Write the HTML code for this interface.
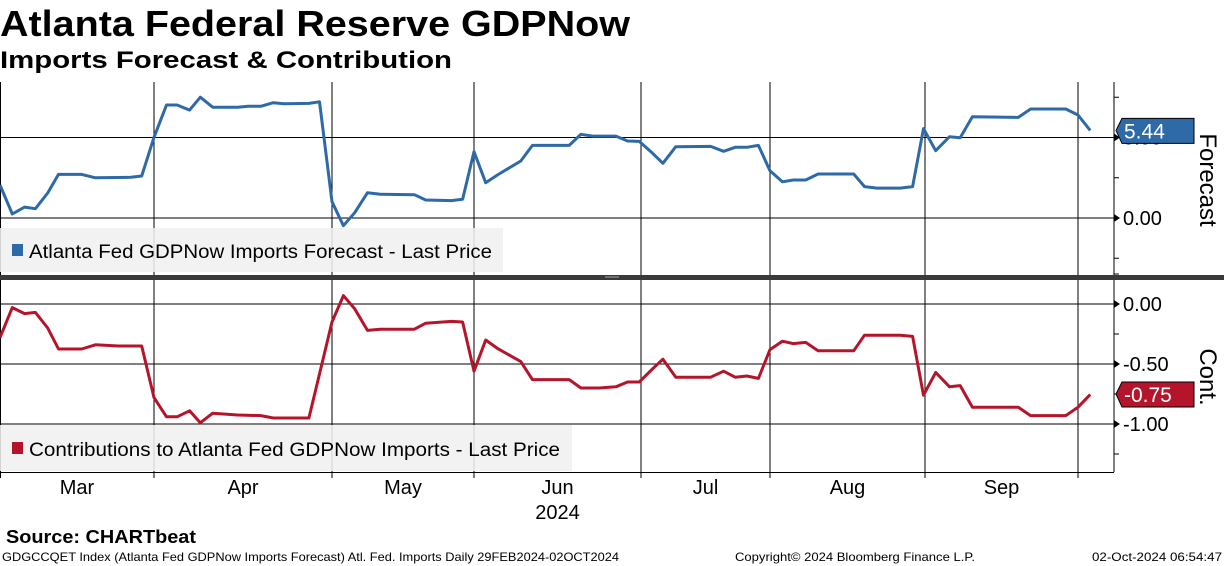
<!DOCTYPE html>
<html><head><meta charset="utf-8"><style>
html,body{margin:0;padding:0;background:#fff;}
svg{display:block;font-family:"Liberation Sans",sans-serif;}
</style></head><body>
<svg id="chart" width="1224" height="566" viewBox="0 0 1224 566" xmlns="http://www.w3.org/2000/svg">
<text x="0" y="36" font-size="36" font-weight="bold" textLength="630" lengthAdjust="spacingAndGlyphs">Atlanta Federal Reserve GDPNow</text>
<text x="0" y="68" font-size="24" font-weight="bold" textLength="452" lengthAdjust="spacingAndGlyphs">Imports Forecast &amp; Contribution</text>
<g id="grid"></g>
<g id="series"></g>
<rect x="0" y="228" width="503" height="44" fill="#f0f0f0" opacity="0.88"/>
<rect x="12" y="244" width="11" height="12" fill="#2e6aa8"/>
<text x="29" y="258" font-size="19" textLength="463" lengthAdjust="spacingAndGlyphs">Atlanta Fed GDPNow Imports Forecast - Last Price</text>
<rect x="0" y="425" width="572" height="46" fill="#f0f0f0" opacity="0.88"/>
<rect x="12" y="442" width="11" height="12" fill="#b5152b"/>
<text x="29" y="456" font-size="19" textLength="531" lengthAdjust="spacingAndGlyphs">Contributions to Atlanta Fed GDPNow Imports - Last Price</text>
<rect x="0" y="275" width="1224" height="5" fill="#3a3a3a"/>
<line x1="605" y1="277" x2="619" y2="277" stroke="#aaa" stroke-width="1"/>
<text transform="translate(1200,180) rotate(90)" text-anchor="middle" font-size="24">Forecast</text>
<text transform="translate(1200,377) rotate(90)" text-anchor="middle" font-size="24">Cont.</text>
<text x="6" y="543" font-size="18" font-weight="bold" textLength="190" lengthAdjust="spacingAndGlyphs">Source: CHARTbeat</text>
<text x="2" y="561" font-size="12" textLength="617" lengthAdjust="spacingAndGlyphs">GDGCCQET Index (Atlanta Fed GDPNow Imports Forecast) Atl. Fed. Imports  Daily 29FEB2024-02OCT2024</text>
<text x="735" y="561" font-size="12" textLength="240" lengthAdjust="spacingAndGlyphs">Copyright© 2024 Bloomberg Finance L.P.</text>
<text x="1092" y="561" font-size="12" textLength="130" lengthAdjust="spacingAndGlyphs">02-Oct-2024 06:54:47</text>
</svg>
<script>
// x values in "month position" (3 = start of March, 10 = start of October)
const forecastX = [3.00,3.08,3.16,3.23,3.31,3.38,3.53,3.62,3.85,3.92,4.00,4.07,4.13,4.20,4.26,4.33,4.47,4.53,4.60,4.67,4.73,4.87,4.93,5.00,5.08,5.16,5.25,5.34,5.58,5.66,5.84,5.92,6.00,6.07,6.14,6.28,6.35,6.57,6.64,6.71,6.78,6.85,6.92,6.99,7.09,7.17,7.27,7.54,7.64,7.73,7.82,7.91,8.00,8.08,8.15,8.23,8.31,8.54,8.61,8.69,8.84,8.92,8.99,9.07,9.16,9.23,9.31,9.61,9.69,9.92,10.00,10.08];
const forecastY = [2.05,0.25,0.68,0.58,1.55,2.71,2.71,2.50,2.53,2.61,5.01,7.02,7.02,6.70,7.50,6.88,6.88,6.94,6.94,7.16,7.10,7.12,7.22,1.01,-0.48,0.33,1.57,1.47,1.45,1.12,1.08,1.16,4.12,2.19,2.67,3.54,4.51,4.51,5.20,5.09,5.09,5.09,4.78,4.76,4.02,3.40,4.43,4.45,4.14,4.39,4.39,4.51,2.94,2.25,2.36,2.36,2.73,2.73,1.95,1.86,1.86,1.95,5.55,4.18,5.05,4.99,6.29,6.25,6.77,6.77,6.40,5.44];
const contribX = [3.00,3.08,3.16,3.23,3.31,3.38,3.53,3.62,3.77,3.92,4.00,4.07,4.13,4.20,4.26,4.33,4.47,4.60,4.67,4.87,5.00,5.08,5.16,5.25,5.34,5.58,5.66,5.84,5.92,6.00,6.07,6.14,6.28,6.35,6.57,6.64,6.75,6.85,6.92,6.99,7.09,7.17,7.27,7.54,7.64,7.73,7.82,7.91,8.00,8.08,8.15,8.23,8.31,8.54,8.61,8.84,8.92,8.99,9.07,9.16,9.23,9.31,9.61,9.69,9.92,10.00,10.08];
const contribY = [-0.28,-0.03,-0.08,-0.07,-0.20,-0.375,-0.375,-0.34,-0.35,-0.35,-0.78,-0.94,-0.94,-0.89,-0.99,-0.91,-0.925,-0.93,-0.95,-0.95,-0.15,0.07,-0.04,-0.22,-0.21,-0.21,-0.16,-0.145,-0.15,-0.56,-0.30,-0.37,-0.48,-0.63,-0.63,-0.70,-0.70,-0.69,-0.65,-0.65,-0.54,-0.46,-0.61,-0.61,-0.56,-0.61,-0.60,-0.62,-0.38,-0.31,-0.33,-0.32,-0.39,-0.39,-0.26,-0.26,-0.27,-0.76,-0.57,-0.69,-0.68,-0.86,-0.86,-0.93,-0.93,-0.86,-0.755];
const monthLabels = ["Mar","Apr","May","Jun","Jul","Aug","Sep"];
const forecastTicks = [0, 5];
const contribTicks = [0, -0.5, -1];
const lastForecast = "5.44";
const lastContrib = "-0.75";

const NS = "http://www.w3.org/2000/svg";
const svg = document.getElementById('chart');
const grid = document.getElementById('grid');
const series = document.getElementById('series');
const monthAnchorPx = [0,154,332,474,641,770,925,1078,1231];
function xScale(m){
  const i = Math.max(0, Math.min(7, Math.floor(m - 3)));
  const f = m - 3 - i;
  return monthAnchorPx[i] + f * (monthAnchorPx[i+1] - monthAnchorPx[i]);
}
function yTop(v){ return 218 - v * 16.1; }
function yBot(v){ return 304 - v * 120; }
const PR = 1114;

function mk(tag, attrs, parent){
  const e = document.createElementNS(NS, tag);
  for (const k in attrs) e.setAttribute(k, attrs[k]);
  (parent || svg).appendChild(e);
  return e;
}
for (let m = 4; m <= 10; m++) {
  const x = xScale(m);
  const l1 = mk('line', {x1:x, y1:82, x2:x, y2:275, stroke:'#000', 'stroke-width':1}, grid);
  
  
  const l2 = mk('line', {x1:x, y1:280, x2:x, y2:478, stroke:'#000', 'stroke-width':1}, grid);
  
  
}
mk('line', {x1:0.5, y1:82, x2:0.5, y2:478, stroke:'#000'}, grid);
forecastTicks.forEach(v => {
  const y = yTop(v);
  const l = mk('line', {x1:0, y1:y, x2:PR, y2:y, stroke:'#000'}, grid);
  
  
  mk('path', {d:`M${PR} ${y-4} L${PR+6} ${y} L${PR} ${y+4}Z`, fill:'#000'}, grid);
  const t = mk('text', {x:PR+9, y:y+7, 'font-size':20}, grid);
  t.textContent = v.toFixed(2);
  
  
});
[-2.5, 2.5, 7.5].forEach(v => mk('line', {x1:PR, y1:yTop(v), x2:PR+5, y2:yTop(v), stroke:'#000'}, grid));
contribTicks.forEach(v => {
  const y = yBot(v);
  const l = mk('line', {x1:0, y1:y, x2:PR, y2:y, stroke:'#000'}, grid);
  
  
  mk('path', {d:`M${PR} ${y-4} L${PR+6} ${y} L${PR} ${y+4}Z`, fill:'#000'}, grid);
  const t = mk('text', {x:PR+9, y:y+7, 'font-size':20}, grid);
  t.textContent = v.toFixed(2);
  
  
});
[0.25, -0.25, -0.75, -1.25].forEach(v => mk('line', {x1:PR, y1:yBot(v), x2:PR+5, y2:yBot(v), stroke:'#000'}, grid));
mk('line', {x1:PR, y1:82, x2:PR, y2:275, stroke:'#000'}, grid);
mk('line', {x1:PR, y1:280, x2:PR, y2:472, stroke:'#000'}, grid);
mk('line', {x1:0, y1:472.5, x2:PR, y2:472.5, stroke:'#000'}, grid);
monthLabels.forEach((lab, i) => {
  const x = (xScale(3+i) + xScale(4+i)) / 2;
  const t = mk('text', {x:x, y:494, 'font-size':20, 'text-anchor':'middle'});
  t.textContent = lab;
  
  
});
const yr = mk('text', {x:(xScale(6)+xScale(7))/2, y:519, 'font-size':20, 'text-anchor':'middle'});
yr.textContent = '2024';


function drawLine(xs, ys, ysc, color, name){
  const d = xs.map((x,i) => (i?'L':'M') + xScale(x).toFixed(1) + ' ' + ysc(ys[i]).toFixed(1)).join(' ');
  const p = mk('path', {d:d, fill:'none', stroke:color, 'stroke-width':3, 'stroke-linejoin':'round'}, series);
  
  
}
drawLine(forecastX, forecastY, yTop, '#2e6aa8', 'forecast-line');
drawLine(contribX, contribY, yBot, '#b5152b', 'contribution-line');
function tag(val, y, color, name){
  const g = mk('g', {});
  
  
  mk('path', {d:`M${PR+2} ${y} L${PR+8} ${y-12} L1194 ${y-12} L1194 ${y+13} L${PR+8} ${y+13} Z`, fill:color, stroke:'#000', 'stroke-width':1}, g);
  const t = mk('text', {x:1124, y:y+8, 'font-size':21, fill:'#fff'}, g);
  t.textContent = val;
}
tag(lastForecast, yTop(+lastForecast), '#2e6aa8', 'forecast-last-value-tag');
tag(lastContrib, yBot(+lastContrib), '#b5152b', 'contribution-last-value-tag');
</script>
</body></html>
